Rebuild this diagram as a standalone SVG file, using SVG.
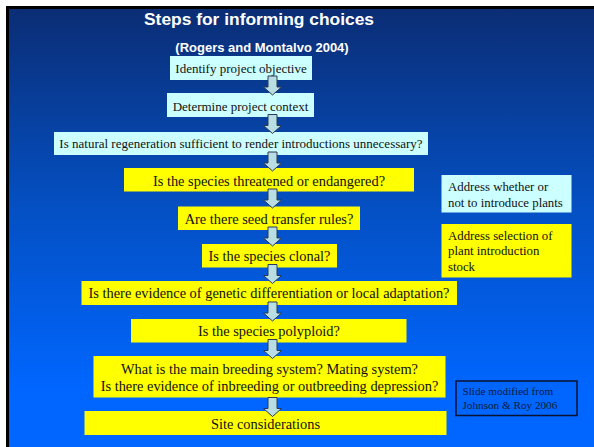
<svg xmlns="http://www.w3.org/2000/svg" width="594" height="447" viewBox="0 0 594 447">
  <defs>
    <linearGradient id="bg" x1="0" y1="0" x2="0" y2="1">
      <stop offset="0" stop-color="#0b2d74"/>
      <stop offset="0.45" stop-color="#0450c4"/>
      <stop offset="0.85" stop-color="#0066ff"/>
      <stop offset="1" stop-color="#0066ff"/>
    </linearGradient>
    <path id="arr" d="M-4.5,0 H4.5 V11 H9 L0,19 L-9,11 H-4.5 Z"/>
    <style>
      .cy { fill: #ccffff; }
      .yl { fill: #ffff00; }
      .t { font-family: "Liberation Serif", "Times New Roman", serif; fill: #111111; text-anchor: middle; }
      .s13 { font-size: 13px; }
      .s14 { font-size: 14.4px; }
      .side { font-family: "Liberation Serif", "Times New Roman", serif; fill: #111111; font-size: 12.8px; }
      .note { font-family: "Liberation Serif", "Times New Roman", serif; fill: #0a1a3a; font-size: 11.2px; }
      .head { font-family: "Liberation Sans", Arial, sans-serif; font-weight: bold; fill: #ffffff; text-anchor: middle; }
      .ar { fill: #b8dde2; stroke: #2a3a55; stroke-width: 1; }
    </style>
  </defs>
  <rect x="0" y="0" width="594" height="447" fill="#ffffff"/>
  <rect x="7.5" y="7.5" width="600" height="450" fill="url(#bg)" stroke="#000000" stroke-width="3"/>

  <g id="title">
    <text class="head" x="259" y="25" font-size="17.4">Steps for informing choices</text>
    <text class="head" x="262" y="52" font-size="13">(Rogers and Montalvo 2004)</text>
  </g>

  <g id="n1">
    <rect class="cy" x="170" y="56" width="142" height="24"/>
    <text class="t s13" x="241" y="72.5">Identify project objective</text>
  </g>
  <g id="n2">
    <rect class="cy" x="167" y="93" width="147" height="24"/>
    <text class="t s13" x="240.5" y="111">Determine project context</text>
  </g>
  <g id="n3">
    <rect class="cy" x="54" y="132" width="374" height="23"/>
    <text class="t s13" x="241" y="148">Is natural regeneration sufficient to render introductions unnecessary?</text>
  </g>
  <g id="n4">
    <rect class="yl" x="124" y="168" width="290" height="23.5"/>
    <text class="t s14" x="269" y="186">Is the species threatened or endangered?</text>
  </g>
  <g id="n5">
    <rect class="yl" x="178" y="206.5" width="182" height="23.5"/>
    <text class="t s14" x="269" y="224">Are there seed transfer rules?</text>
  </g>
  <g id="n6">
    <rect class="yl" x="202" y="244" width="135" height="23.5"/>
    <text class="t s14" x="269.5" y="261">Is the species clonal?</text>
  </g>
  <g id="n7">
    <rect class="yl" x="81.5" y="281" width="375.5" height="24"/>
    <text class="t s14" x="269" y="298">Is there evidence of genetic differentiation or local adaptation?</text>
  </g>
  <g id="n8">
    <rect class="yl" x="131" y="319" width="275.5" height="23.5"/>
    <text class="t s14" x="269" y="336">Is the species polyploid?</text>
  </g>
  <g id="n9">
    <rect class="yl" x="93.5" y="356" width="352" height="41.5"/>
    <text class="t s14" x="269.5" y="374">What is the main breeding system? Mating system?</text>
    <text class="t s14" x="269.5" y="390.5">Is there evidence of inbreeding or outbreeding depression?</text>
  </g>
  <g id="n10">
    <rect class="yl" x="84.5" y="411" width="362" height="24"/>
    <text class="t s14" x="265.5" y="428.5">Site considerations</text>
  </g>

  <g id="legend-introduce">
    <rect class="cy" x="441.5" y="175" width="130" height="37.5"/>
    <text class="side" x="448" y="190.5">Address whether or</text>
    <text class="side" x="448" y="206.5">not to introduce plants</text>
  </g>
  <g id="legend-stock">
    <rect class="yl" x="441.5" y="224" width="130" height="53.5"/>
    <text class="side" x="448" y="239.5">Address selection of</text>
    <text class="side" x="448" y="255">plant introduction</text>
    <text class="side" x="448" y="270.5">stock</text>
  </g>
  <g id="credit">
    <rect x="456" y="381" width="121" height="34.5" fill="none" stroke="#0a1230" stroke-width="1.5"/>
    <text class="note" x="462.5" y="395">Slide modified from</text>
    <text class="note" x="462.5" y="408.5">Johnson &amp; Roy 2006</text>
  </g>

  <g id="connectors">
    <use href="#arr" class="ar" x="272.5" y="76"/>
    <use href="#arr" class="ar" x="272.5" y="114.5"/>
    <use href="#arr" class="ar" x="272.5" y="152"/>
    <use href="#arr" class="ar" x="272.5" y="189"/>
    <use href="#arr" class="ar" x="272.5" y="227"/>
    <use href="#arr" class="ar" x="272.5" y="264.5"/>
    <use href="#arr" class="ar" x="272.5" y="302"/>
    <use href="#arr" class="ar" x="272.5" y="339.5"/>
    <use href="#arr" class="ar" x="272.5" y="397.5"/>
  </g>
</svg>
